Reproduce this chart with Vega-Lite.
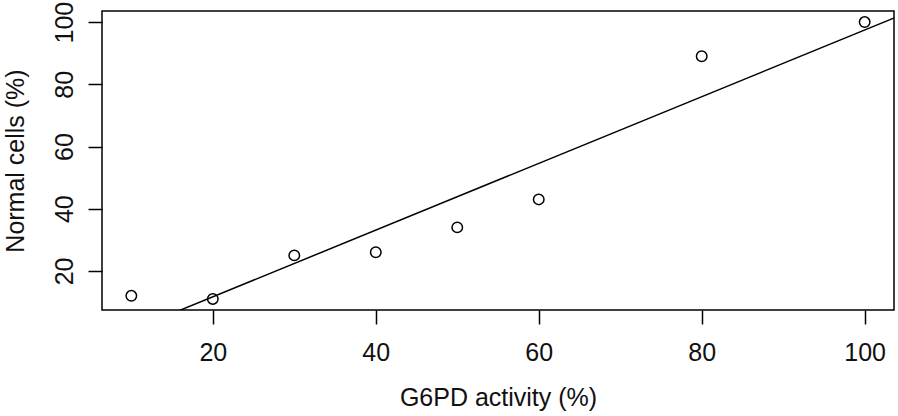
{
  "$schema": "https://vega.github.io/schema/vega-lite/v6.json",
  "width": 792,
  "height": 299,
  "autosize": {"type": "none"},
  "padding": {"left": 102, "top": 11, "right": 4, "bottom": 106},
  "background": "white",
  "config": {
    "view": {"stroke": "black", "strokeWidth": 1.5},
    "font": "Liberation Sans",
    "axis": {
      "grid": false,
      "domain": false,
      "tickColor": "black",
      "tickWidth": 1.5,
      "tickSize": 14,
      "labelFont": "Liberation Sans",
      "labelFontSize": 25,
      "labelColor": "#111",
      "titleFont": "Liberation Sans",
      "titleFontSize": 25,
      "titleFontWeight": "normal",
      "titleColor": "#111"
    }
  },
  "data": {
    "values": [
      {"activity": 10, "normal": 12},
      {"activity": 20, "normal": 11},
      {"activity": 30, "normal": 25},
      {"activity": 40, "normal": 26},
      {"activity": 50, "normal": 34},
      {"activity": 60, "normal": 43},
      {"activity": 80, "normal": 89},
      {"activity": 100, "normal": 100}
    ]
  },
  "layer": [
    {
      "transform": [
        {"regression": "normal", "on": "activity", "method": "linear", "extent": [0, 110]}
      ],
      "mark": {"type": "line", "color": "black", "strokeWidth": 1.5, "clip": true},
      "encoding": {
        "x": {"field": "activity", "type": "quantitative"},
        "y": {"field": "normal", "type": "quantitative"}
      }
    },
    {
      "mark": {"type": "point", "shape": "circle", "filled": false, "color": "black", "strokeWidth": 1.5, "size": 110, "opacity": 1},
      "encoding": {
        "x": {
          "field": "activity",
          "type": "quantitative",
          "title": "G6PD activity (%)",
          "scale": {"domain": [6.4, 103.6], "nice": false, "zero": false},
          "axis": {"values": [20, 40, 60, 80, 100], "labelPadding": 16, "titlePadding": 20}
        },
        "y": {
          "field": "normal",
          "type": "quantitative",
          "title": "Normal cells (%)",
          "scale": {"domain": [7.44, 103.56], "nice": false, "zero": false},
          "axis": {"values": [20, 40, 60, 80, 100], "labelAngle": -90, "labelAlign": "center", "labelBaseline": "bottom", "labelPadding": 11, "titlePadding": 24}
        }
      }
    }
  ]
}
